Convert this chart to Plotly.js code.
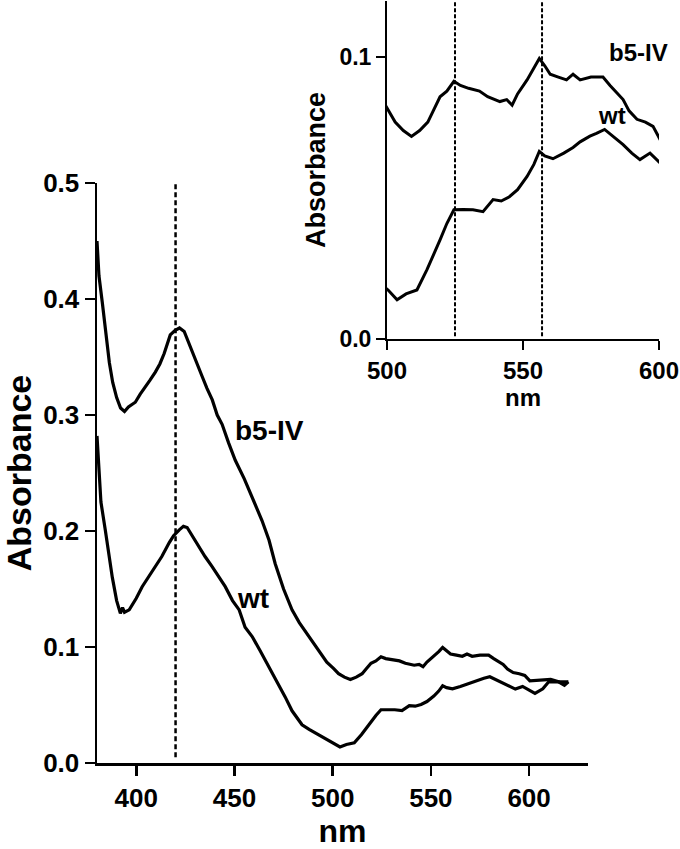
<!DOCTYPE html>
<html>
<head>
<meta charset="utf-8">
<script src="https://cdn.plot.ly/plotly-3.0.1.min.js"></script>
<style>html,body{margin:0;padding:0;background:#fff;}#chart{width:680px;height:849px;}</style>
</head>
<body>
<div id="chart"></div>
<script>
// Wavelength (nm) and absorbance for b5-IV
const b5Wavelength = [380,381,382.7,384.2,386.3,388,390,392,394,396,399.5,402,404.6,407,409.7,412,414.2,417.3,419.8,422,424.4,426.5,428.5,431,433.6,436,438.7,441.2,443.7,447,450.4,455,459,464,467.6,470.7,475,479.3,483,488,493,497,
  500.4,503,506,509,512,515,517,519.5,522,524.6,527,530,534,537,541.5,544,546,548,551.5,554,556,558,560,563,566,568.4,571,575,579.4,582,586.8,589,591.9,595,597.8,600.4,603,606,611,615,618,620];
const b5Absorbance = [0.450,0.420,0.397,0.376,0.345,0.328,0.315,0.306,0.303,0.307,0.311,0.318,0.324,0.330,0.337,0.344,0.353,0.369,0.373,0.375,0.372,0.363,0.353,0.343,0.333,0.323,0.313,0.300,0.292,0.276,0.261,0.245,0.229,0.209,0.192,0.172,0.150,0.132,0.121,0.109,0.096,0.087,
  0.0815,0.077,0.074,0.0719,0.074,0.077,0.081,0.086,0.088,0.0915,0.090,0.089,0.088,0.086,0.0843,0.085,0.083,0.087,0.092,0.096,0.0996,0.097,0.094,0.093,0.092,0.094,0.092,0.093,0.093,0.090,0.085,0.081,0.078,0.077,0.0755,0.0708,0.071,0.071,0.072,0.070,0.067,0.070];

// Wavelength (nm) and absorbance for wt
const wtWavelength = [380,381,382,384.2,386,387.8,390,391.9,393,394,396.4,400,403,406,409.7,413,416.8,419,421.9,424,425.9,428,430,432,435,438.7,442,445.3,449,452.4,455.4,459,463,467.6,471,475.8,479.3,484.4,488,493,497,
  500.4,503.7,507,511,514.7,517,519.5,522,524.6,528,531.6,535.3,539,542,545,548,551.5,554,556,558,561,565,568.4,571,574.6,577,580,583,586.8,590,593,596.7,600.4,603,607,610,615,620];
const wtAbsorbance = [0.282,0.250,0.225,0.201,0.180,0.160,0.140,0.129,0.134,0.130,0.132,0.142,0.152,0.160,0.169,0.178,0.190,0.196,0.201,0.204,0.203,0.197,0.191,0.186,0.178,0.169,0.160,0.152,0.140,0.132,0.117,0.109,0.097,0.083,0.072,0.057,0.045,0.033,0.029,0.024,0.020,
  0.0174,0.0139,0.016,0.0174,0.0246,0.030,0.0352,0.041,0.0459,0.046,0.0459,0.0452,0.0495,0.049,0.0505,0.053,0.0577,0.062,0.0666,0.065,0.064,0.066,0.068,0.070,0.072,0.073,0.0744,0.072,0.069,0.066,0.0637,0.066,0.0626,0.060,0.064,0.070,0.070,0.070];

// Reference wavelengths (dashed markers)
const mainMarkers = [420];
const insetMarkers = [525, 557];

// Tick labels
const mainXTicks = [400, 450, 500, 550, 600];
const mainYTicks = [0.0, 0.1, 0.2, 0.3, 0.4, 0.5];
const insetXTicks = [500, 550, 600];
const insetYTicks = [0.0, 0.1];

const seriesNames = ['b5-IV', 'wt'];

const FONT = 'Liberation Sans, Arial, Helvetica, sans-serif';
const bold = (size) => ({family: FONT, size: size, color: '#000', weight: 'bold'});

const traces = [
  {x: b5Wavelength, y: b5Absorbance, name: seriesNames[0], type: 'scatter', mode: 'lines', line: {color: '#000', width: 3.2}, xaxis: 'x', yaxis: 'y'},
  {x: wtWavelength, y: wtAbsorbance, name: seriesNames[1], type: 'scatter', mode: 'lines', line: {color: '#000', width: 3.2}, xaxis: 'x', yaxis: 'y'},
  {x: b5Wavelength, y: b5Absorbance, name: seriesNames[0], type: 'scatter', mode: 'lines', line: {color: '#000', width: 3}, xaxis: 'x2', yaxis: 'y2', cliponaxis: true},
  {x: wtWavelength, y: wtAbsorbance, name: seriesNames[1], type: 'scatter', mode: 'lines', line: {color: '#000', width: 3}, xaxis: 'x2', yaxis: 'y2', cliponaxis: true}
];

const axisCommon = {showgrid: false, zeroline: false, showline: true, linecolor: '#000', ticks: 'outside', tickcolor: '#000', fixedrange: true};

const shapes = [];
mainMarkers.forEach(w => shapes.push({type: 'line', xref: 'x', yref: 'y', x0: w, x1: w, y0: 0.005, y1: 0.5, line: {color: '#000', width: 2.5, dash: '5px,3px'}}));
insetMarkers.forEach(w => shapes.push({type: 'line', xref: 'x2', yref: 'y2', x0: w, x1: w, y0: 0.001, y1: 0.12, line: {color: '#000', width: 2, dash: '4px,2px'}}));

const layout = {
  width: 680, height: 849,
  margin: {l: 0, r: 0, t: 0, b: 0},
  paper_bgcolor: '#fff', plot_bgcolor: 'rgba(0,0,0,0)',
  showlegend: false,
  xaxis: Object.assign({}, axisCommon, {
    domain: [97/680, 588/680], range: [380, 630], anchor: 'y',
    tickvals: mainXTicks, ticklen: 10, tickwidth: 2.5, linewidth: 2.5,
    tickfont: bold(26),
    title: {text: 'nm', font: bold(32), standoff: 14}
  }),
  yaxis: Object.assign({}, axisCommon, {
    domain: [86/849, 666/849], range: [0, 0.5], anchor: 'x',
    tickvals: mainYTicks, tickformat: '.1f', ticklen: 10, tickwidth: 2.5, linewidth: 2.5,
    tickfont: bold(26),
    title: {text: 'Absorbance', font: bold(34), standoff: 8}
  }),
  xaxis2: Object.assign({}, axisCommon, {
    domain: [387/680, 659/680], range: [500, 600], anchor: 'y2',
    tickvals: insetXTicks, ticklen: 9, tickwidth: 2, linewidth: 2,
    tickfont: bold(24),
    title: {text: 'nm', font: bold(24), standoff: 6}
  }),
  yaxis2: Object.assign({}, axisCommon, {
    domain: [510/849, 848/849], range: [0, 0.12], anchor: 'x2',
    tickvals: insetYTicks, tickformat: '.1f', ticklen: 9, tickwidth: 2, linewidth: 2,
    tickfont: bold(23),
    title: {text: 'Absorbance', font: bold(27), standoff: 6}
  }),
  shapes: shapes,
  annotations: [
    {xref: 'x', yref: 'y', x: 467.7, y: 0.287, text: seriesNames[0], showarrow: false, font: bold(28)},
    {xref: 'x', yref: 'y', x: 459.5, y: 0.142, text: seriesNames[1], showarrow: false, font: bold(28)},
    {xref: 'x2', yref: 'y2', x: 592.3, y: 0.1018, text: seriesNames[0], showarrow: false, font: bold(24)},
    {xref: 'x2', yref: 'y2', x: 582.7, y: 0.0794, text: seriesNames[1], showarrow: false, font: bold(24)}
  ]
};

Plotly.newPlot('chart', traces, layout, {staticPlot: true, displayModeBar: false});
</script>
</body>
</html>
